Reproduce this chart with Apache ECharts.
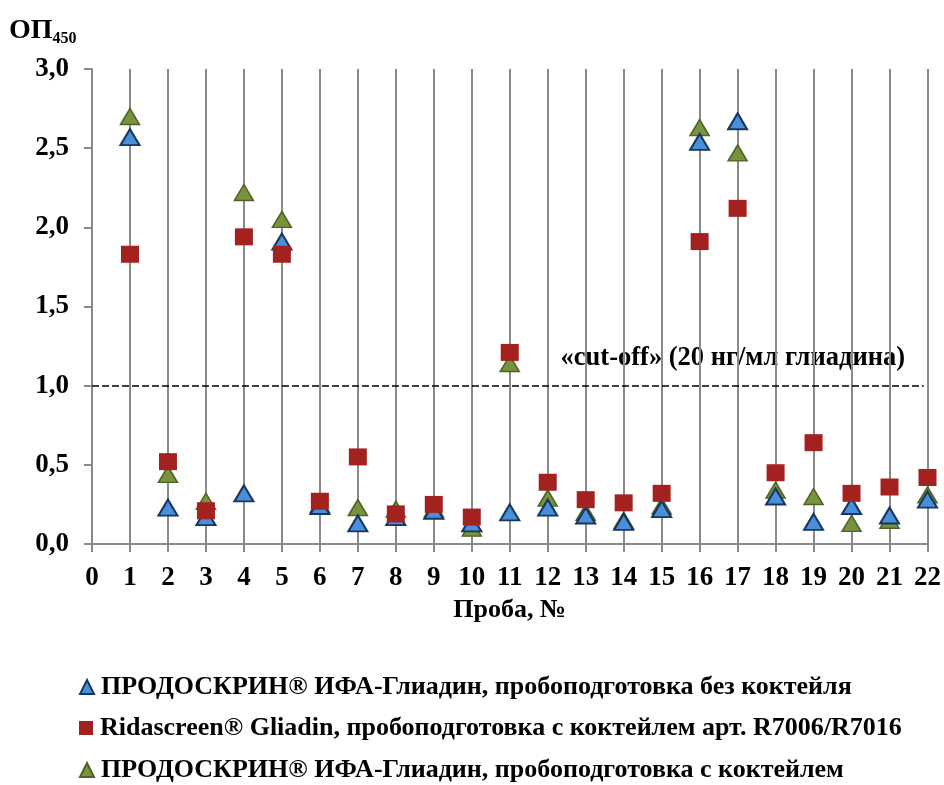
<!DOCTYPE html>
<html>
<head>
<meta charset="utf-8">
<script src="https://cdn.jsdelivr.net/npm/echarts@6/dist/echarts.min.js"></script>
<style>html,body{margin:0;padding:0;background:#fff;}#c{width:944px;height:785px;}</style>
</head>
<body>
<div id="c"></div>
<script>
const samples = [1,2,3,4,5,6,7,8,9,10,11,12,13,14,15,16,17,18,19,20,21,22];
const blueValues  = [2.57,0.23,0.17,0.32,1.91,0.24,0.13,0.17,0.21,0.13,0.20,0.23,0.18,0.14,0.22,2.54,2.67,0.30,0.14,0.24,0.18,0.28];
const redValues   = [1.83,0.52,0.21,1.94,1.83,0.27,0.55,0.19,0.25,0.17,1.21,0.39,0.28,0.26,0.32,1.91,2.12,0.45,0.64,0.32,0.36,0.42];
const greenValues = [2.70,0.44,0.27,2.22,2.05,0.25,0.23,0.22,0.22,0.10,1.14,0.29,0.20,0.15,0.24,2.63,2.47,0.34,0.30,0.13,0.15,0.31];
const cutoff = 1.0;
const seriesNames = [
  'ПРОДОСКРИН® ИФА-Глиадин, пробоподготовка без коктейля',
  'Ridascreen® Gliadin, пробоподготовка с коктейлем арт. R7006/R7016',
  'ПРОДОСКРИН® ИФА-Глиадин, пробоподготовка с коктейлем'
];
const cutoffLabel = '«cut-off» (20 нг/мл глиадина)';

const FONT = '"Liberation Serif", "Times New Roman", serif';
const pairs = vals => samples.map((s, i) => [s, vals[i]]);
const legendTops = [674, 715, 757];
const legendItem = (name, top) => ({
  orient: 'horizontal', left: 79, top: top, padding: 0,
  itemWidth: 14, itemHeight: 14, itemGap: 0,
  data: [name],
  textStyle: {fontFamily: FONT, fontSize: 26, fontWeight: 'bold', color: '#000', padding: [0, 0, 0, 2]},
  selectedMode: false
});

const chart = echarts.init(document.getElementById('c'), null, {renderer: 'canvas'});
chart.setOption({
  animation: false,
  backgroundColor: '#fff',
  grid: {left: 92, right: 15, top: 69, bottom: 241, containLabel: false},
  xAxis: {
    type: 'value', min: 0, max: 22, interval: 1,
    name: 'Проба, №', nameLocation: 'middle', nameGap: 43,
    nameTextStyle: {fontFamily: FONT, fontSize: 26, fontWeight: 'bold', color: '#000'},
    axisLine: {show: true, lineStyle: {color: '#8a8a8a', width: 2}},
    axisTick: {show: true, length: 8, lineStyle: {color: '#8a8a8a', width: 2}},
    axisLabel: {fontFamily: FONT, fontSize: 27, fontWeight: 'bold', color: '#000', margin: 21},
    splitLine: {show: true, lineStyle: {color: '#8a8a8a', width: 2}}
  },
  yAxis: {
    type: 'value', min: 0, max: 3, interval: 0.5,
    axisLine: {show: true, lineStyle: {color: '#8a8a8a', width: 2}},
    axisTick: {show: true, length: 8, lineStyle: {color: '#8a8a8a', width: 2}},
    axisLabel: {fontFamily: FONT, fontSize: 27, fontWeight: 'bold', color: '#000', margin: 23,
      formatter: v => v.toFixed(1).replace('.', ',')},
    splitLine: {show: false}
  },
  legend: seriesNames.map((n, i) => legendItem(n, legendTops[i])),
  graphic: [
    {type: 'text', left: 9, top: 17, style: {
      text: '{a|ОП}{b|450}', fontFamily: FONT,
      rich: {a: {fontFamily: FONT, fontSize: 28, fontWeight: 'bold', fill: '#000'},
             b: {fontFamily: FONT, fontSize: 16, fontWeight: 'bold', fill: '#000', padding: [16, 0, 0, 0]}}
    }},
    {type: 'text', right: 39, top: 345, style: {
      text: cutoffLabel, fontFamily: FONT, fontSize: 26.5, fontWeight: 'bold', fill: '#000'
    }}
  ],
  series: [
    {
      name: seriesNames[2], type: 'scatter', z: 2,
      symbol: 'triangle', symbolSize: [19, 16],
      itemStyle: {color: '#77933c', borderColor: '#4f6228', borderWidth: 1.5, opacity: 1},
      data: pairs(greenValues)
    },
    {
      name: seriesNames[0], type: 'scatter', z: 3,
      symbol: 'triangle', symbolSize: [19, 16],
      itemStyle: {color: '#4a8fd9', borderColor: '#17375e', borderWidth: 2, opacity: 1},
      data: pairs(blueValues),
      markLine: {
        silent: true, symbol: 'none', animation: false,
        lineStyle: {color: '#000', type: [7, 3], width: 1.5},
        label: {show: false},
        data: [[{coord: [samples[0] - 1, cutoff]}, {coord: [samples[samples.length - 1] - 0.1, cutoff]}]]
      }
    },
    {
      name: seriesNames[1], type: 'scatter', z: 4,
      symbol: 'rect', symbolSize: [18, 17],
      itemStyle: {color: '#a3211f', opacity: 1},
      data: pairs(redValues)
    }
  ]
});
</script>
</body>
</html>
